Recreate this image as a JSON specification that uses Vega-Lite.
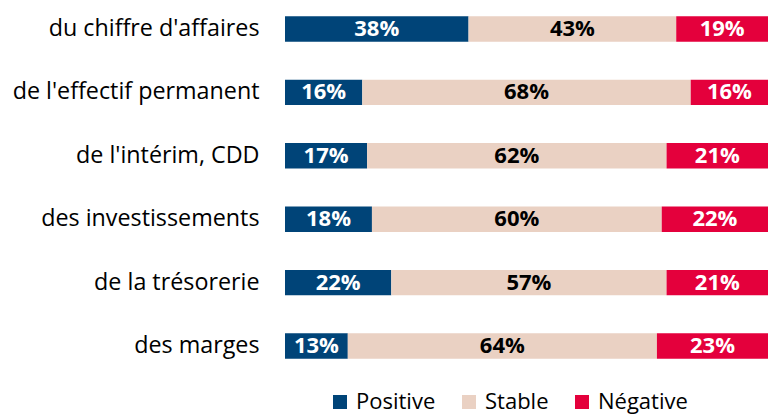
{
  "$schema": "https://vega.github.io/schema/vega-lite/v6.json",
  "width": 483,
  "height": 375,
  "autosize": "none",
  "padding": {"left": 285, "top": 0, "right": 0, "bottom": 41},
  "background": "white",
  "config": {"font": "Open Sans", "view": {"stroke": null}},
  "data": {"values": [
    {"item": "du chiffre d'affaires", "cat": "Positive", "ord": 1, "v": 38},
    {"item": "du chiffre d'affaires", "cat": "Stable", "ord": 2, "v": 43},
    {"item": "du chiffre d'affaires", "cat": "Négative", "ord": 3, "v": 19},
    {"item": "de l'effectif permanent", "cat": "Positive", "ord": 1, "v": 16},
    {"item": "de l'effectif permanent", "cat": "Stable", "ord": 2, "v": 68},
    {"item": "de l'effectif permanent", "cat": "Négative", "ord": 3, "v": 16},
    {"item": "de l'intérim, CDD", "cat": "Positive", "ord": 1, "v": 17},
    {"item": "de l'intérim, CDD", "cat": "Stable", "ord": 2, "v": 62},
    {"item": "de l'intérim, CDD", "cat": "Négative", "ord": 3, "v": 21},
    {"item": "des investissements", "cat": "Positive", "ord": 1, "v": 18},
    {"item": "des investissements", "cat": "Stable", "ord": 2, "v": 60},
    {"item": "des investissements", "cat": "Négative", "ord": 3, "v": 22},
    {"item": "de la trésorerie", "cat": "Positive", "ord": 1, "v": 22},
    {"item": "de la trésorerie", "cat": "Stable", "ord": 2, "v": 57},
    {"item": "de la trésorerie", "cat": "Négative", "ord": 3, "v": 21},
    {"item": "des marges", "cat": "Positive", "ord": 1, "v": 13},
    {"item": "des marges", "cat": "Stable", "ord": 2, "v": 64},
    {"item": "des marges", "cat": "Négative", "ord": 3, "v": 23}
  ]},
  "transform": [
    {"stack": "v", "groupby": ["item"], "sort": [{"field": "ord", "order": "ascending"}], "as": ["x0", "x1"]},
    {"calculate": "(datum.x0 + datum.x1) / 2", "as": "xm"},
    {"calculate": "datum.v + '%'", "as": "lab"}
  ],
  "encoding": {
    "y": {
      "field": "item", "type": "nominal", "sort": null, "title": null,
      "scale": {"paddingInner": 0.6, "paddingOuter": 0.257},
      "axis": {"domain": false, "ticks": false, "labelFontSize": 23.3, "labelColor": "#000", "labelPadding": 26, "labelLimit": 300}
    }
  },
  "layer": [
    {
      "mark": {"type": "bar"},
      "encoding": {
        "x": {"field": "x0", "type": "quantitative", "scale": {"domain": [0, 100], "nice": false}, "axis": null},
        "x2": {"field": "x1"},
        "color": {
          "field": "cat", "type": "nominal", "title": null,
          "scale": {"domain": ["Positive", "Stable", "Négative"], "range": ["#004478", "#EAD1C3", "#E4003C"]},
          "legend": {"orient": "none", "legendX": 44, "legendY": 391, "direction": "horizontal", "symbolType": "square", "symbolSize": 196, "symbolStrokeWidth": 0, "labelFontSize": 22, "labelColor": "#000", "labelOffset": 5, "columnPadding": 22}
        }
      }
    },
    {
      "mark": {"type": "text", "fontSize": 22, "fontWeight": "bold", "baseline": "middle"},
      "encoding": {
        "x": {"field": "xm", "type": "quantitative"},
        "text": {"field": "lab", "type": "nominal"},
        "color": {"condition": {"test": "datum.cat === 'Stable'", "value": "#000"}, "value": "#fff"}
      }
    }
  ]
}
